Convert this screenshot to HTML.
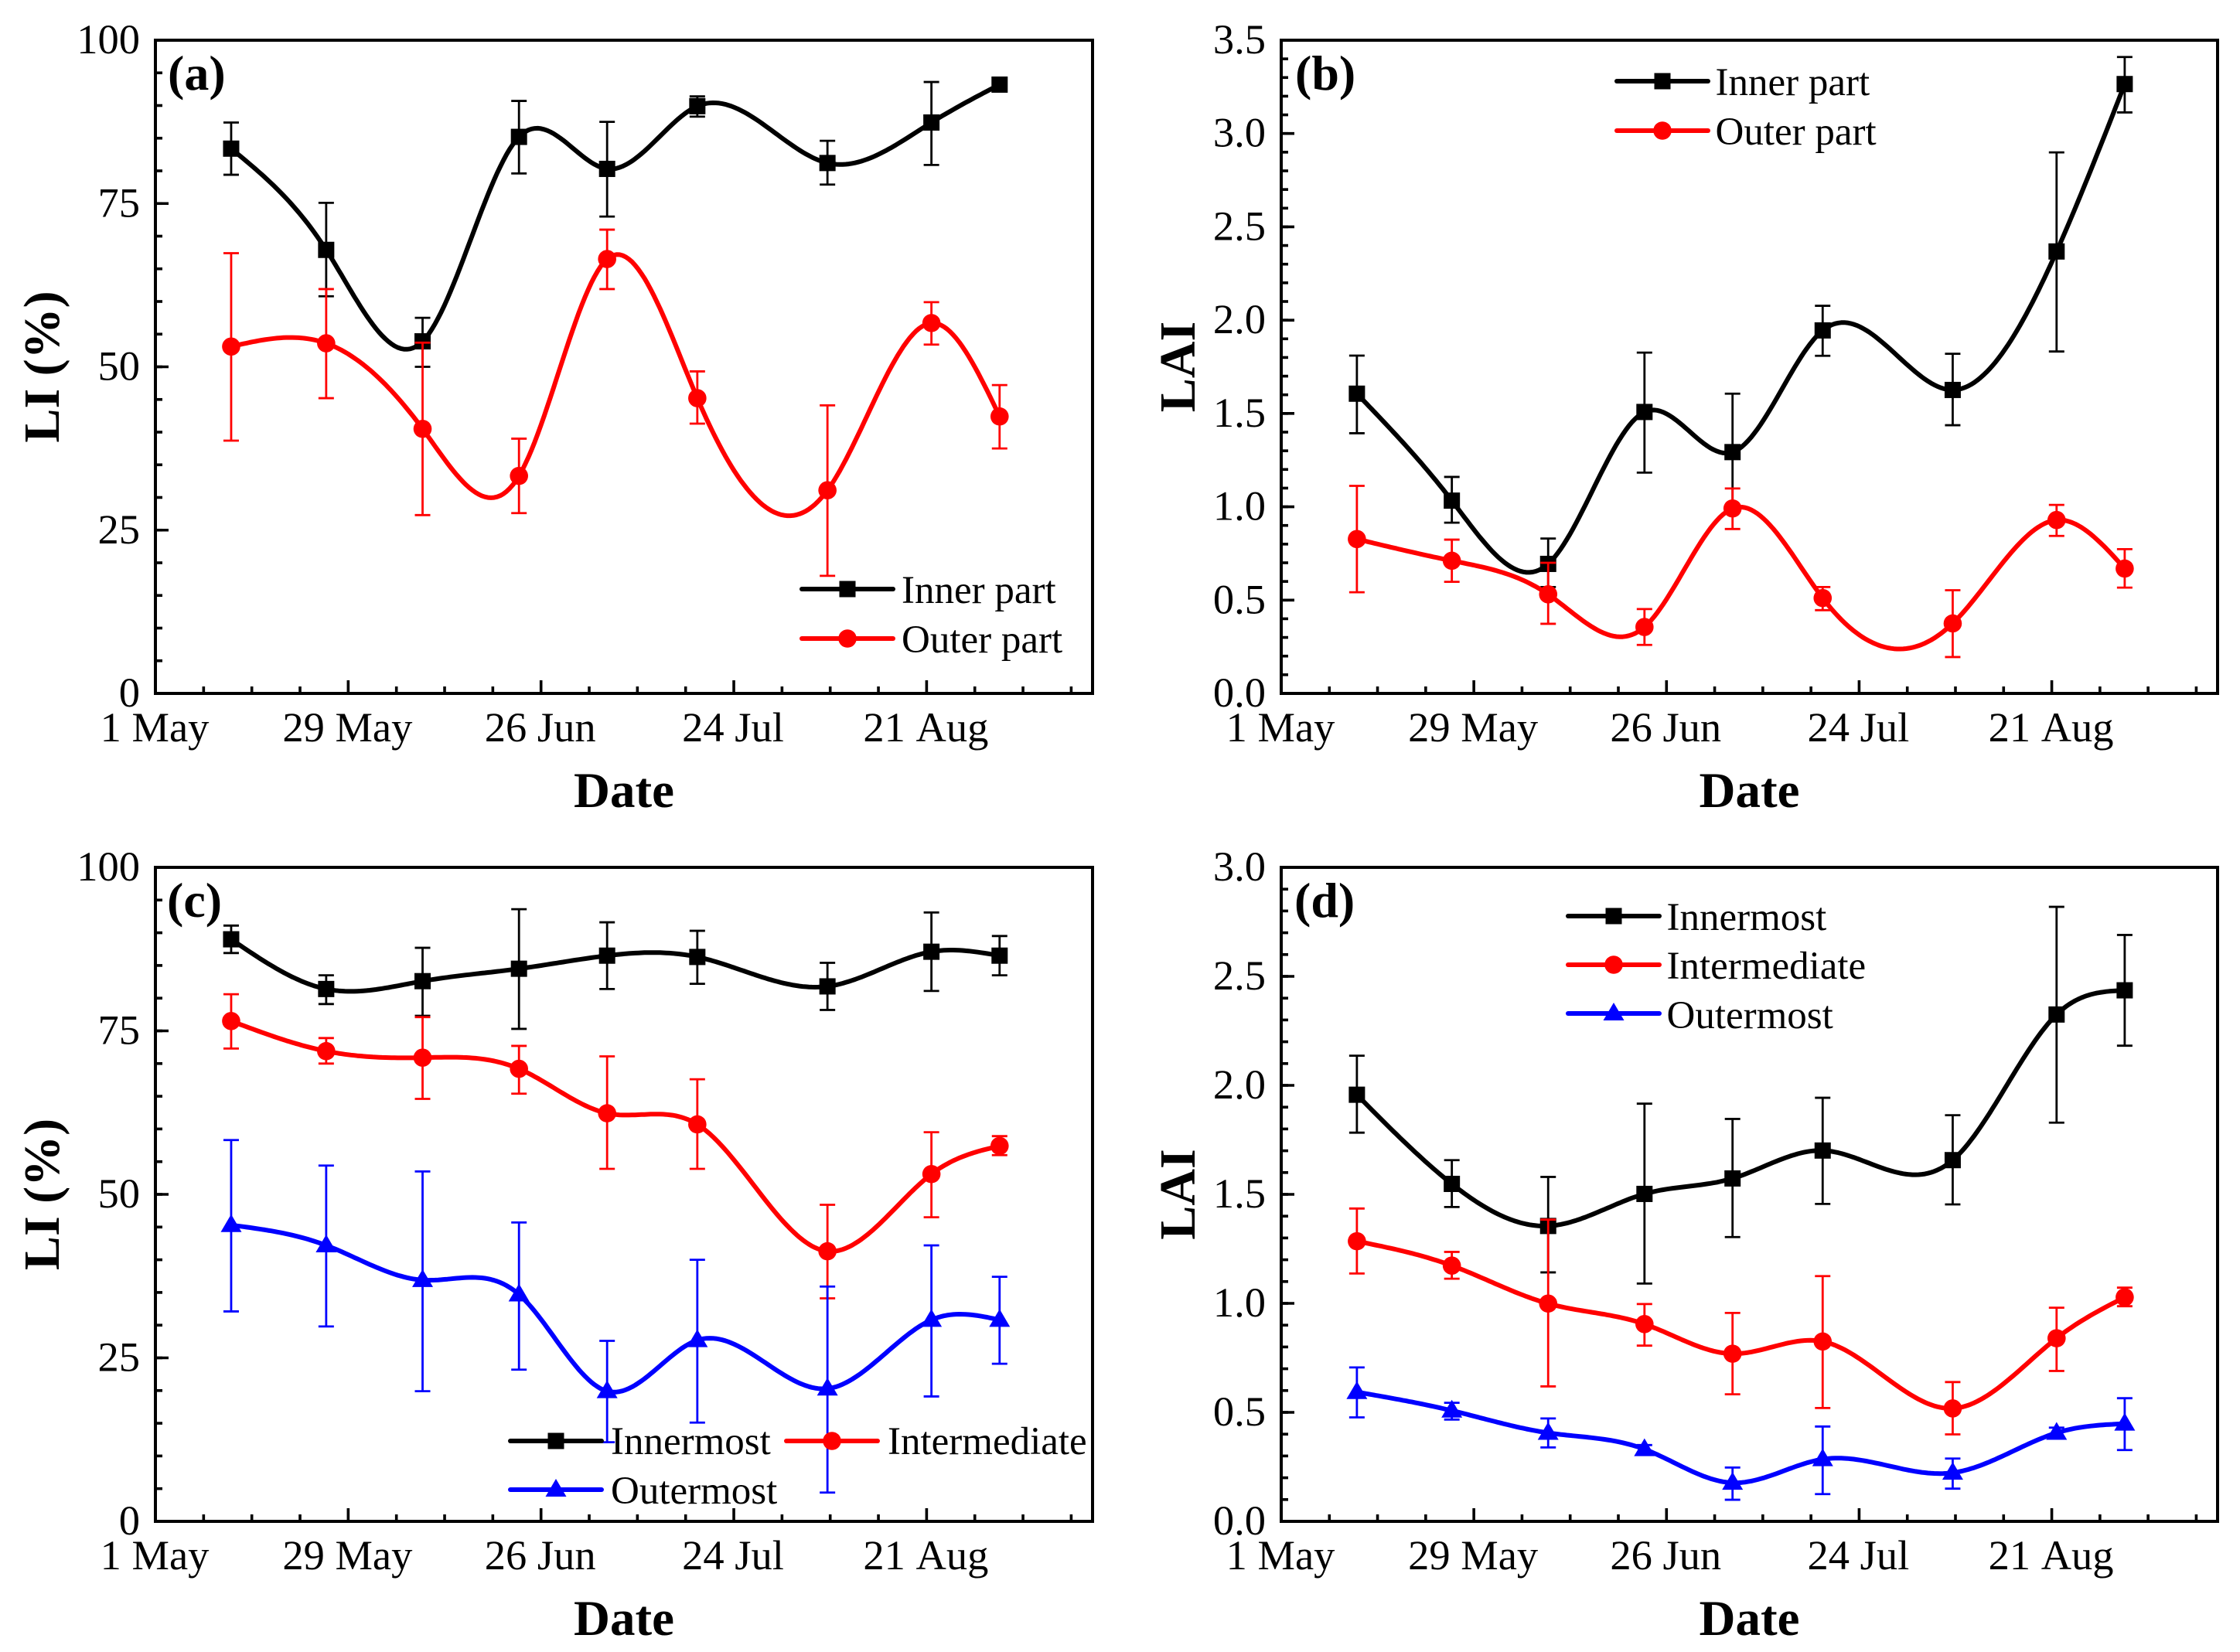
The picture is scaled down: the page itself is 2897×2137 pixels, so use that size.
<!DOCTYPE html>
<html lang="en">
<head>
<meta charset="utf-8">
<title>LI and LAI by date</title>
<style>
html,body{margin:0;padding:0;background:#fff;}
svg{display:block;}
text{font-family:"Liberation Serif","Times New Roman",serif;fill:#000;}
.tick-text{font-kerning:none;}
</style>
</head>
<body>
<svg id="chart" xmlns="http://www.w3.org/2000/svg" width="2897" height="2137" viewBox="0 0 2897 2137"></svg>
<script>
// Shared x data: sampling dates as days since 1 May
const sampleDays = [11.0, 24.8, 38.8, 52.8, 65.6, 78.7, 97.6, 112.7, 122.6];
const xTickDays = [0, 28, 56, 84, 112];
const xTickLabels = ['1 May', '29 May', '26 Jun', '24 Jul', '21 Aug'];
const liTickValues = [0, 25, 50, 75, 100];
const liTickLabels = ['0', '25', '50', '75', '100'];
const laiTickValuesB = [0, 0.5, 1, 1.5, 2, 2.5, 3, 3.5];
const laiTickLabelsB = ['0.0', '0.5', '1.0', '1.5', '2.0', '2.5', '3.0', '3.5'];
const laiTickValuesD = [0, 0.5, 1, 1.5, 2, 2.5, 3];
const laiTickLabelsD = ['0.0', '0.5', '1.0', '1.5', '2.0', '2.5', '3.0'];

// Panel (a) LI
const aInnerMean = [83.4, 67.9, 53.9, 85.2, 80.3, 89.9, 81.2, 87.4, 93.2];
const aInnerUpper = [87.4, 75.1, 57.5, 90.7, 87.5, 91.4, 84.6, 93.6, 93.2];
const aInnerLower = [79.4, 60.8, 50.0, 79.6, 73.0, 88.3, 77.9, 80.9, 93.2];
const aOuterMean = [53.1, 53.6, 40.5, 33.3, 66.5, 45.2, 31.1, 56.7, 42.4];
const aOuterUpper = [67.4, 61.9, 53.7, 39.0, 71.0, 49.3, 44.1, 59.9, 47.2];
const aOuterLower = [38.7, 45.2, 27.3, 27.6, 61.9, 41.3, 18.0, 53.4, 37.5];

// Panel (b) LAI
const bInnerMean = [1.606, 1.033, 0.694, 1.508, 1.293, 1.945, 1.626, 2.368, 3.265];
const bInnerUpper = [1.81, 1.16, 0.83, 1.826, 1.606, 2.077, 1.82, 2.899, 3.41];
const bInnerLower = [1.394, 0.915, 0.57, 1.183, 0.98, 1.809, 1.437, 1.832, 3.113];
const bOuterMean = [0.827, 0.711, 0.531, 0.356, 0.991, 0.511, 0.375, 0.929, 0.669];
const bOuterUpper = [1.112, 0.824, 0.70, 0.452, 1.098, 0.57, 0.553, 1.01, 0.773];
const bOuterLower = [0.542, 0.598, 0.373, 0.26, 0.881, 0.446, 0.195, 0.844, 0.567];

// Panel (c) LI
const cInnerMean = [89.0, 81.4, 82.6, 84.5, 86.5, 86.3, 81.8, 87.1, 86.5];
const cInnerUpper = [91.1, 83.5, 87.7, 93.6, 91.6, 90.3, 85.4, 93.1, 89.5];
const cInnerLower = [86.9, 79.1, 77.3, 75.3, 81.4, 82.2, 78.2, 81.1, 83.5];
const cMiddleMean = [76.5, 71.9, 70.9, 69.2, 62.4, 60.7, 41.3, 53.1, 57.4];
const cMiddleUpper = [80.6, 73.9, 77.1, 72.7, 71.1, 67.6, 48.4, 59.5, 58.9];
const cMiddleLower = [72.3, 70.0, 64.6, 65.4, 53.9, 53.9, 34.1, 46.5, 56.0];
const cOuterMean = [45.3, 42.2, 36.9, 34.7, 19.9, 27.7, 20.3, 30.8, 30.8];
const cOuterUpper = [58.3, 54.4, 53.5, 45.7, 27.6, 40.0, 35.9, 42.2, 37.4];
const cOuterLower = [32.1, 29.8, 19.9, 23.2, 12.1, 15.1, 4.4, 19.1, 24.1];

// Panel (d) LAI
const dInnerMean = [1.957, 1.548, 1.355, 1.502, 1.573, 1.701, 1.657, 2.325, 2.436];
const dInnerUpper = [2.136, 1.657, 1.58, 1.916, 1.846, 1.943, 1.863, 2.819, 2.69];
const dInnerLower = [1.783, 1.442, 1.142, 1.091, 1.304, 1.456, 1.454, 1.829, 2.182];
const dMiddleMean = [1.285, 1.173, 0.999, 0.905, 0.769, 0.825, 0.518, 0.84, 1.028];
const dMiddleUpper = [1.435, 1.236, 1.384, 0.997, 0.956, 1.125, 0.639, 0.98, 1.072];
const dMiddleLower = [1.137, 1.113, 0.619, 0.806, 0.583, 0.52, 0.399, 0.69, 0.987];
const dOuterMean = [0.593, 0.508, 0.406, 0.331, 0.177, 0.285, 0.223, 0.406, 0.448];
const dOuterUpper = [0.706, 0.544, 0.472, 0.35, 0.247, 0.435, 0.288, 0.43, 0.565];
const dOuterLower = [0.477, 0.467, 0.339, 0.31, 0.099, 0.125, 0.15, 0.38, 0.327];

const svg = document.getElementById('chart');
const NS = 'http://www.w3.org/2000/svg';
const X_MAX_DAYS = 136.1;

function make(tag, attrs, parent, content) {
  const el = document.createElementNS(NS, tag);
  for (const k in attrs) el.setAttribute(k, attrs[k]);
  if (content !== undefined) el.textContent = content;
  parent.appendChild(el);
  return el;
}

// Natural cubic spline through the data points, returned as an SVG path
function splinePath(xs, ys) {
  const n = xs.length;
  const h = [], al = [0], l = [1], mu = [0], z = [0];
  for (let i = 0; i < n - 1; i++) h.push(xs[i + 1] - xs[i]);
  for (let i = 1; i < n - 1; i++) {
    al[i] = 3 * (ys[i + 1] - ys[i]) / h[i] - 3 * (ys[i] - ys[i - 1]) / h[i - 1];
    l[i] = 2 * (xs[i + 1] - xs[i - 1]) - h[i - 1] * mu[i - 1];
    mu[i] = h[i] / l[i];
    z[i] = (al[i] - h[i - 1] * z[i - 1]) / l[i];
  }
  const c = new Array(n).fill(0), b = [], d = [];
  for (let j = n - 2; j >= 0; j--) {
    c[j] = z[j] - mu[j] * c[j + 1];
    b[j] = (ys[j + 1] - ys[j]) / h[j] - h[j] * (c[j + 1] + 2 * c[j]) / 3;
    d[j] = (c[j + 1] - c[j]) / (3 * h[j]);
  }
  let p = 'M' + xs[0].toFixed(1) + ' ' + ys[0].toFixed(1);
  for (let i = 0; i < n - 1; i++) {
    const steps = Math.max(4, Math.round(h[i] / 4));
    for (let s = 1; s <= steps; s++) {
      const t = h[i] * s / steps;
      const y = ys[i] + b[i] * t + c[i] * t * t + d[i] * t * t * t;
      p += 'L' + (xs[i] + t).toFixed(1) + ' ' + y.toFixed(1);
    }
  }
  return p;
}

function drawMarker(shape, cx, cy, color, parent) {
  let el;
  if (shape === 'square') {
    el = make('rect', { x: cx - 10.5, y: cy - 10.5, width: 21, height: 21, fill: color }, parent);
  } else if (shape === 'circle') {
    el = make('circle', { cx: cx, cy: cy, r: 11.8, fill: color }, parent);
  } else {
    const pts = cx + ',' + (cy - 14) + ' ' + (cx + 13.5) + ',' + (cy + 9) + ' ' + (cx - 13.5) + ',' + (cy + 9);
    el = make('polygon', { points: pts, fill: color }, parent);
  }
  
  
  return el;
}

function drawPanel(panel) {
  const g = make('g', {}, svg);
  
  

  const xScale = d => panel.left + d / X_MAX_DAYS * (panel.right - panel.left);
  const yScale = v => panel.bottom - v / panel.yMax * (panel.bottom - panel.top);

  // series: error bars, curve, markers
  panel.series.forEach(s => {
    const sg = make('g', {}, g);
    
    
    sampleDays.forEach((d, i) => {
      const x = xScale(d), yU = yScale(s.upper[i]), yL = yScale(s.lower[i]);
      if (s.upper[i] === s.lower[i]) return;
      const eb = make('path', {
        d: 'M' + x + ' ' + yU + 'V' + yL + 'M' + (x - 10) + ' ' + yU + 'H' + (x + 10) + 'M' + (x - 10) + ' ' + yL + 'H' + (x + 10),
        fill: 'none', stroke: s.color, 'stroke-width': 2.8
      }, sg);
      
      
    });
    const line = make('path', {
      d: splinePath(sampleDays.map(xScale), s.mean.map(yScale)),
      fill: 'none', stroke: s.color, 'stroke-width': 6, 'stroke-linejoin': 'round'
    }, sg);
    
    
    sampleDays.forEach((d, i) => {
      drawMarker(s.shape, xScale(d), yScale(s.mean[i]), s.color, sg);
    });
  });

  // axis frame
  const frame = make('rect', {
    x: panel.left, y: panel.top,
    width: panel.right - panel.left, height: panel.bottom - panel.top,
    fill: 'none', stroke: '#000', 'stroke-width': 4
  }, g);
  
  

  // x ticks
  for (let d = 7; d < X_MAX_DAYS; d += 7) {
    const major = d % 28 === 0;
    const x = xScale(d);
    const t = make('line', { x1: x, x2: x, y1: panel.bottom, y2: panel.bottom - (major ? 17 : 9), stroke: '#000', 'stroke-width': 3.6 }, g);
    
    
  }
  xTickDays.forEach((d, i) => {
    const lab = make('text', { class: 'tick-text', x: xScale(d) - 1, y: panel.bottom + 62, 'text-anchor': 'middle', 'font-size': 54.5 }, g, xTickLabels[i]);
    
    
  });

  // y ticks
  for (let k = 1; k * panel.yMinor < panel.yMax + 1e-6; k++) {
    const v = k * panel.yMinor;
    const y = yScale(v);
    const t = make('line', { x1: panel.left, x2: panel.left + 9, y1: y, y2: y, stroke: '#000', 'stroke-width': 3.6 }, g);
    
    
  }
  panel.yTicks.forEach((v, i) => {
    const y = yScale(v);
    const t = make('line', { x1: panel.left, x2: panel.left + 17, y1: y, y2: y, stroke: '#000', 'stroke-width': 3.6 }, g);
    
    
    const lab = make('text', { class: 'tick-text', x: panel.left - 20, y: y + 17, 'text-anchor': 'end', 'font-size': 54.5 }, g, panel.yLabels[i]);
    
    
  });

  // titles
  const xt = make('text', { x: (panel.left + panel.right) / 2, y: panel.bottom + 147, 'text-anchor': 'middle', 'font-size': 65, 'font-weight': 'bold' }, g, 'Date');
  
  
  const cy = (panel.top + panel.bottom) / 2;
  const yt = make('text', { x: 0, y: 0, transform: 'translate(' + panel.yTitleX + ' ' + cy + ') rotate(-90)', 'text-anchor': 'middle', 'font-size': 66, 'font-weight': 'bold' }, g, panel.yTitle);
  
  
  const pl = make('text', { x: panel.labelX, y: panel.top + 64, 'font-size': 64, 'font-weight': 'bold' }, g, '(' + panel.id + ')');
  
  

  // legend
  panel.legend.forEach(entry => {
    const s = panel.series[entry.index];
    const lg = make('g', {}, g);
    
    
    make('line', { x1: entry.x, x2: entry.x + 118, y1: entry.y, y2: entry.y, stroke: s.color, 'stroke-width': 6, 'stroke-linecap': 'round' }, lg);
    drawMarker(s.shape, entry.x + 59, entry.y, s.color, lg);
    const tx = make('text', { x: entry.tx, y: entry.ty, 'font-size': 51 }, lg, s.name);
    
    
  });
}

const BLACK = '#000000', RED = '#ff0000', BLUE = '#0000ff';

drawPanel({
  id: 'a', left: 201, right: 1413, top: 52, bottom: 897, yMax: 100, yMinor: 5,
  yTicks: liTickValues, yLabels: liTickLabels, yTitle: 'LI (%)', yTitleX: 76, labelX: 217,
  series: [
    { key: 'inner-part', name: 'Inner part', color: BLACK, shape: 'square', mean: aInnerMean, upper: aInnerUpper, lower: aInnerLower },
    { key: 'outer-part', name: 'Outer part', color: RED, shape: 'circle', mean: aOuterMean, upper: aOuterUpper, lower: aOuterLower }
  ],
  legend: [{ index: 0, x: 1037, y: 762, tx: 1166, ty: 780 }, { index: 1, x: 1037, y: 826, tx: 1166, ty: 844 }]
});

drawPanel({
  id: 'b', left: 1657, right: 2868, top: 52, bottom: 897, yMax: 3.5, yMinor: 0.1,
  yTicks: laiTickValuesB, yLabels: laiTickLabelsB, yTitle: 'LAI', yTitleX: 1545, labelX: 1675,
  series: [
    { key: 'inner-part', name: 'Inner part', color: BLACK, shape: 'square', mean: bInnerMean, upper: bInnerUpper, lower: bInnerLower },
    { key: 'outer-part', name: 'Outer part', color: RED, shape: 'circle', mean: bOuterMean, upper: bOuterUpper, lower: bOuterLower }
  ],
  legend: [{ index: 0, x: 2091, y: 105 }, { index: 1, x: 2091, y: 169 }].map((e, i) => ({ index: e.index, x: e.x, y: e.y, tx: 2218.5, ty: i ? 187 : 123 }))
});

drawPanel({
  id: 'c', left: 201, right: 1413, top: 1122, bottom: 1968, yMax: 100, yMinor: 5,
  yTicks: liTickValues, yLabels: liTickLabels, yTitle: 'LI (%)', yTitleX: 76, labelX: 216,
  series: [
    { key: 'innermost', name: 'Innermost', color: BLACK, shape: 'square', mean: cInnerMean, upper: cInnerUpper, lower: cInnerLower },
    { key: 'intermediate', name: 'Intermediate', color: RED, shape: 'circle', mean: cMiddleMean, upper: cMiddleUpper, lower: cMiddleLower },
    { key: 'outermost', name: 'Outermost', color: BLUE, shape: 'triangle', mean: cOuterMean, upper: cOuterUpper, lower: cOuterLower }
  ],
  legend: [
    { index: 0, x: 660, y: 1864, tx: 790, ty: 1881 },
    { index: 1, x: 1017, y: 1864, tx: 1148, ty: 1881 },
    { index: 2, x: 660, y: 1927, tx: 790, ty: 1945 }
  ]
});

drawPanel({
  id: 'd', left: 1657, right: 2868, top: 1122, bottom: 1968, yMax: 3, yMinor: 0.1,
  yTicks: laiTickValuesD, yLabels: laiTickLabelsD, yTitle: 'LAI', yTitleX: 1545, labelX: 1674,
  series: [
    { key: 'innermost', name: 'Innermost', color: BLACK, shape: 'square', mean: dInnerMean, upper: dInnerUpper, lower: dInnerLower },
    { key: 'intermediate', name: 'Intermediate', color: RED, shape: 'circle', mean: dMiddleMean, upper: dMiddleUpper, lower: dMiddleLower },
    { key: 'outermost', name: 'Outermost', color: BLUE, shape: 'triangle', mean: dOuterMean, upper: dOuterUpper, lower: dOuterLower }
  ],
  legend: [
    { index: 0, x: 2028, y: 1185, tx: 2155.5, ty: 1203 },
    { index: 1, x: 2028, y: 1248, tx: 2155.5, ty: 1266 },
    { index: 2, x: 2028, y: 1311, tx: 2155.5, ty: 1330 }
  ]
});
</script>
</body>
</html>
